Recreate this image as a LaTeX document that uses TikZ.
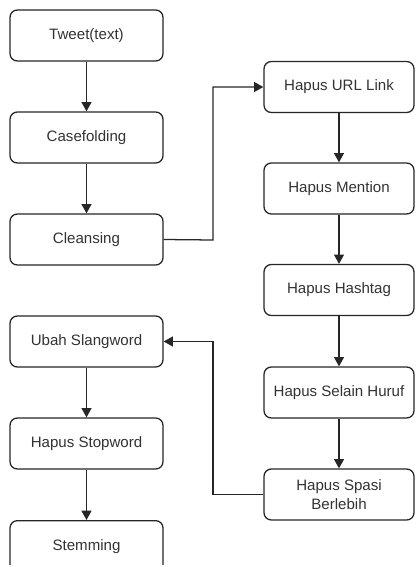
\documentclass[tikz,border=0pt]{standalone}
\usepackage{fontspec}
\setmainfont{Liberation Sans}
\usetikzlibrary{arrows.meta}
\begin{document}
\begin{tikzpicture}[x=0.75pt,y=-0.75pt,
  stepbox/.style={draw=black!85, line width=0.95pt, rounded corners=5.5pt, fill=white,
    minimum height=51*0.75pt, inner sep=0pt, align=center,
    font=\fontsize{11.3pt}{14.2pt}\selectfont, text=black!80},
  lbox/.style={stepbox, minimum width=153*0.75pt},
  rbox/.style={stepbox, minimum width=150*0.75pt},
  conn/.style={draw=black!85, line width=0.95pt, -{Triangle[length=7pt,width=7.5pt]}}]
\useasboundingbox (0,0) rectangle (415,567);
\begin{scope}
\clip (-5,-5) rectangle (420,564.5);
\node[lbox] (tweet) at (86.5,35.5) {Tweet(text)};
\node[lbox] (case) at (86.5,137.5) {Casefolding};
\node[lbox] (clean) at (86.5,239.5) {Cleansing};
\node[lbox] (slang) at (86.5,341.5) {Ubah Slangword};
\node[lbox] (stop) at (86.5,443.5) {Hapus Stopword};
\node[lbox, minimum height=60*0.75pt, anchor=north] (stem) at (86.5,520) {\smash{Stemming}};
\node[rbox] (url) at (339,87) {Hapus URL Link};
\node[rbox] (mention) at (339,188.5) {Hapus Mention};
\node[rbox] (hash) at (339,290) {Hapus Hashtag};
\node[rbox] (huruf) at (339,392.5) {Hapus Selain Huruf};
\node[rbox] (spasi) at (339,494.5) {Hapus Spasi\\Berlebih};
\draw[conn] (tweet) -- (case);
\draw[conn] (case) -- (clean);
\draw[conn] (slang) -- (stop);
\draw[conn] (stop) -- (stem);
\draw[conn] (url) -- (mention);
\draw[conn] (mention) -- (hash);
\draw[conn] (hash) -- (huruf);
\draw[conn] (huruf) -- (spasi);
\coordinate (j1) at (213,240);
\coordinate (j2) at (213,87);
\draw[conn] (clean.east) -- (j1) -- (j2) -- (url.west);
\coordinate (j3) at (213,494.5);
\coordinate (j4) at (213,341.5);
\draw[conn] (spasi.west) -- (j3) -- (j4) -- (slang.east);
\end{scope}
\end{tikzpicture}
\end{document}
